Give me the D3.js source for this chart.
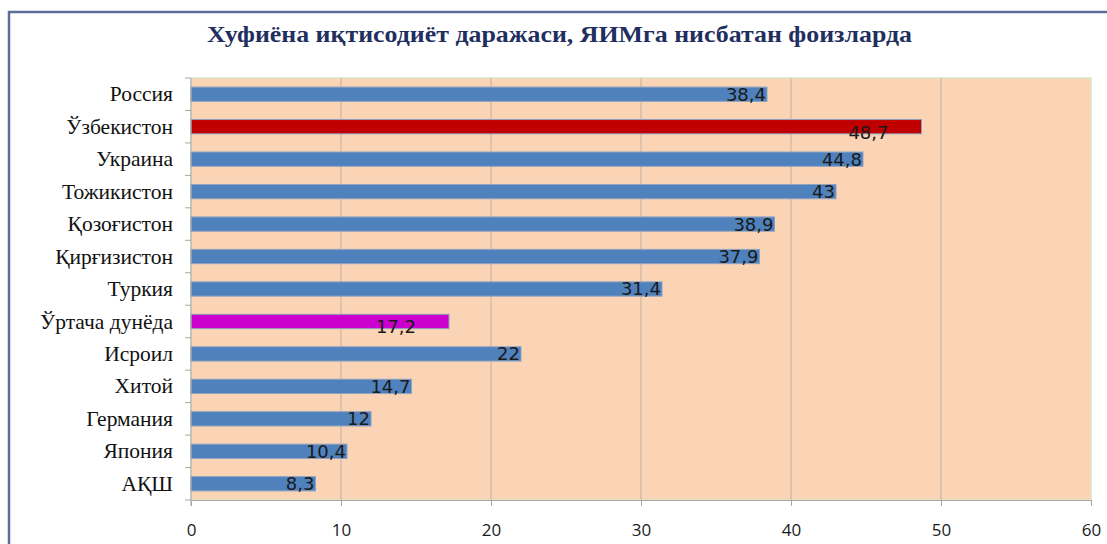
<!DOCTYPE html>
<html>
<head>
<meta charset="utf-8">
<script src="https://cdn.jsdelivr.net/npm/d3@7"></script>
<style>
  body { margin: 0; background: #fff; }
  svg { display: block; }
</style>
</head>
<body>
<div id="chart"></div>
<script>

const width = 1107, height = 544;

// data, top to bottom
const countries = [ "Россия", "Ўзбекистон", "Украина", "Тожикистон", "Қозоғистон", "Қирғизистон",
	"Туркия", "Ўртача дунёда", "Исроил", "Хитой", "Германия", "Япония", "АҚШ" ];
const values = [ 38.4, 48.7, 44.8, 43, 38.9, 37.9, 31.4, 17.2, 22, 14.7, 12, 10.4, 8.3 ];
const xTicks = [ 0, 10, 20, 30, 40, 50, 60 ];
const highlight = { "Ўзбекистон": "#C00000", "Ўртача дунёда": "#CC00CC" };
// labels that were dragged off the bar end in the original
const shifted = { "Ўзбекистон": [ -32, 6 ], "Ўртача дунёда": [ -32, 5 ] };

const title = "Хуфиёна иқтисодиёт даражаси, ЯИМга нисбатан фоизларда";

///////////////////////////////////////////////////////////////////////

const m = { left: 191, right: 1091, top: 78, bottom: 500 };

let svg = d3.select( "#chart" )
	.append( "svg" )
		.attr( "width", width )
		.attr( "height", height );

// outer frame
svg.append( "path" )
	.attr( "d", `M9,${height} V12 H${width}` )
	.attr( "fill", "none" )
	.attr( "stroke", "#5B6F99" )
	.attr( "stroke-width", 2.5 );

svg.append( "text" )
	.attr( "x", 207 )
	.attr( "y", 42 )
	.attr( "textLength", 705 )
	.attr( "lengthAdjust", "spacingAndGlyphs" )
	.attr( "font-family", "Liberation Serif, serif" )
	.attr( "font-weight", "bold" )
	.attr( "font-size", 24 )
	.attr( "fill", "#1F2F5F" )
	.text( title );

let x = d3.scaleLinear()
	.domain( [ 0, 60 ] )
	.range( [ m.left, m.right ] );

let y = d3.scaleBand()
	.domain( countries )
	.range( [ m.top, m.bottom ] )
	.paddingInner( 0.56 )
	.paddingOuter( 0.28 );

// plot background
svg.append( "rect" )
	.attr( "x", m.left )
	.attr( "y", m.top )
	.attr( "width", m.right - m.left )
	.attr( "height", m.bottom - m.top )
	.attr( "fill", "#FBD4B5" )
	.attr( "stroke", "#DCE6C4" )
	.attr( "stroke-width", 1.5 );

// vertical grid
svg.append( "g" )
	.selectAll( "line" )
	.data( xTicks.slice( 1, -1 ) )
	.join( "line" )
		.attr( "x1", d => x( d ) )
		.attr( "x2", d => x( d ) )
		.attr( "y1", m.top )
		.attr( "y2", m.bottom )
		.attr( "stroke", "#BFB0A3" )
		.attr( "stroke-width", 1 );

// bars
svg.append( "g" )
	.selectAll( "rect" )
	.data( countries )
	.join( "rect" )
		.attr( "x", x( 0 ) )
		.attr( "y", d => y( d ) )
		.attr( "width", ( d, i ) => x( values[ i ] ) - x( 0 ) )
		.attr( "height", y.bandwidth() )
		.attr( "fill", d => highlight[ d ] || "#4F81BD" )
		.attr( "stroke", "#8EA3BF" )
		.attr( "stroke-width", 1 );

// value labels
svg.append( "g" )
	.selectAll( "text" )
	.data( countries )
	.join( "text" )
		.attr( "x", ( d, i ) => x( values[ i ] ) - 1 + ( shifted[ d ] ? shifted[ d ][ 0 ] : 0 ) )
		.attr( "y", d => y( d ) + y.bandwidth() / 2 + ( shifted[ d ] ? shifted[ d ][ 1 ] : 0 ) )
		.attr( "dy", "0.36em" )
		.attr( "text-anchor", "end" )
		.attr( "font-family", "DejaVu Sans, sans-serif" )
		.attr( "font-size", 18 )
		.attr( "fill", "#1a1a1a" )
		.text( ( d, i ) => String( values[ i ] ).replace( ".", "," ) );

// left axis
let yAxis = svg.append( "g" )
	.attr( "transform", `translate(${m.left},0)` );
yAxis.append( "line" )
	.attr( "y1", m.top ).attr( "y2", m.bottom + 6 )
	.attr( "stroke", "#A6A6A6" );
yAxis.selectAll( "line.tk" )
	.data( d3.range( countries.length + 1 ) )
	.join( "line" )
		.attr( "class", "tk" )
		.attr( "x1", -6 ).attr( "x2", 0 )
		.attr( "y1", i => m.top + i * y.step() )
		.attr( "y2", i => m.top + i * y.step() )
		.attr( "stroke", "#A6A6A6" );
yAxis.selectAll( "text" )
	.data( countries )
	.join( "text" )
		.attr( "x", -18 )
		.attr( "y", d => y( d ) + y.bandwidth() / 2 )
		.attr( "dy", "0.33em" )
		.attr( "text-anchor", "end" )
		.attr( "font-family", "Liberation Serif, serif" )
		.attr( "font-size", 21.5 )
		.attr( "fill", "#111" )
		.text( d => d );

// bottom axis
let xAxis = svg.append( "g" )
	.attr( "transform", `translate(0,${m.bottom})` )
	.call( d3.axisBottom( x ).tickValues( xTicks ).tickSize( 6 ).tickSizeOuter( 0 ).tickPadding( 18 ) );
xAxis.select( ".domain" ).attr( "stroke", "#A6A6A6" );
xAxis.selectAll( ".tick line" ).attr( "stroke", "#A6A6A6" );
xAxis.selectAll( ".tick text" )
	.attr( "font-family", "Open Sans, DejaVu Sans, sans-serif" )
	.attr( "font-size", 17 )
	.attr( "fill", "#1a1a1a" );

</script>
</body>
</html>
